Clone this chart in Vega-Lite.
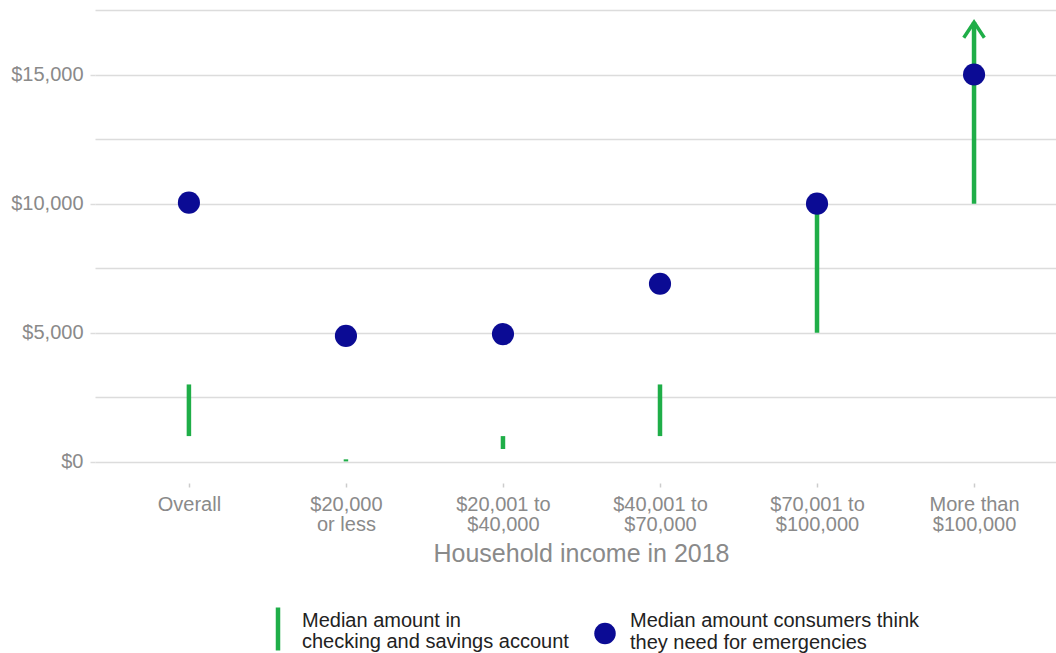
{
  "$schema": "https://vega.github.io/schema/vega-lite/v6.json",
  "width": 961,
  "height": 477,
  "autosize": "none",
  "padding": {"left": 95, "top": 3, "right": 0, "bottom": 173},
  "background": "white",
  "config": {
    "view": {"stroke": null},
    "font": "Liberation Sans",
    "axis": {"labelFont": "Liberation Sans", "titleFont": "Liberation Sans"},
    "legend": {"labelFont": "Liberation Sans", "padding": 0}
  },
  "data": {
    "values": [
      {"group": "Overall", "low": 1000, "high": 3000, "need": 10040},
      {"group": "$20,000 or less", "low": 20, "high": 100, "need": 4880},
      {"group": "$20,001 to $40,000", "low": 500, "high": 1000, "need": 4950},
      {"group": "$40,001 to $70,000", "low": 1000, "high": 3000, "need": 6900},
      {"group": "$70,001 to $100,000", "low": 5000, "high": 10000, "need": 10000},
      {"group": "More than $100,000", "low": 10000, "high": 17025, "need": 15000, "arrow": 17025}
    ]
  },
  "encoding": {
    "x": {
      "field": "group",
      "type": "nominal",
      "sort": null,
      "scale": {"type": "point", "padding": 0.56, "align": 0.534},
      "axis": {
        "title": "Household income in 2018",
        "titleFontSize": 25,
        "titleFontWeight": "normal",
        "titleColor": "#8a8a8a",
        "titlePadding": 7,
        "titleX": 486,
        "titleAlign": "center",
        "labelAngle": 0,
        "labelFontSize": 20,
        "labelColor": "#8a8a8a",
        "labelLineHeight": 20,
        "labelPadding": 7,
        "labelExpr": "split(replace(replace(replace(datum.label, ' to ', ' to|'), ' or ', '|or '), 'than ', 'than|'), '|')",
        "domain": false,
        "grid": false,
        "ticks": true,
        "tickSize": 4,
        "tickColor": "#cccccc",
        "tickWidth": 1.5,
        "offset": 3
      }
    }
  },
  "layer": [
    {
      "mark": {"type": "rule", "strokeWidth": 4.5, "strokeCap": "butt"},
      "encoding": {
        "y": {
          "field": "low",
          "type": "quantitative",
          "scale": {"domain": [-700, 17770], "nice": false, "zero": false},
          "axis": {
            "title": null,
            "values": [0, 2500, 5000, 7500, 10000, 12500, 15000, 17500],
            "labelExpr": "datum.value % 5000 === 0 ? format(datum.value, '$,.0f') : ''",
            "labelFontSize": 20,
            "labelColor": "#8a8a8a",
            "labelPadding": 7,
            "domain": false,
            "grid": true,
            "gridColor": "#dcdcdc",
            "gridWidth": 1.5,
            "tickSize": 5,
            "tickColor": "#dcdcdc",
            "tickWidth": 1.5,
            "tickOpacity": {"condition": {"test": "datum.value % 5000 === 0", "value": 1}, "value": 0}
          }
        },
        "y2": {"field": "high"},
        "color": {
          "datum": "Median amount in checking and savings account",
          "scale": {"range": ["#1fae48"]},
          "legend": {
            "title": null,
            "orient": "none",
            "legendX": 159,
            "legendY": 602,
            "symbolType": "M0,-1L0,1",
            "symbolSize": 1849,
            "symbolStrokeWidth": 4.5,
            "symbolStrokeColor": "#1fae48",
            "labelFontSize": 20,
            "labelColor": "#222222",
            "labelLimit": 400,
            "labelExpr": "['Median amount in', 'checking and savings account']",
            "labelOffset": 0,
            "encode": {"labels": {"update": {"dy": {"value": -8}, "lineHeight": {"value": 21}}}}
          }
        }
      }
    },
    {
      "mark": {"type": "point", "shape": "M-1,1.5L0,0L1,1.5", "filled": false, "size": 424, "strokeWidth": 3.5, "color": "#1fae48", "opacity": 1},
      "encoding": {
        "y": {"field": "arrow", "type": "quantitative"}
      }
    },
    {
      "mark": {"type": "circle", "opacity": 1, "size": 490},
      "encoding": {
        "y": {"field": "need", "type": "quantitative"},
        "fill": {
          "datum": "Median amount consumers think they need for emergencies",
          "scale": {"range": ["#0b0b94"]},
          "legend": {
            "title": null,
            "orient": "none",
            "legendX": 488.5,
            "legendY": 596,
            "symbolType": "M-0.5,0.6A0.5,0.5 0 1,0 0.5,0.6A0.5,0.5 0 1,0 -0.5,0.6Z",
            "symbolSize": 1849,
            "symbolStrokeWidth": 0,
            "labelFontSize": 20,
            "labelColor": "#222222",
            "labelLimit": 400,
            "labelExpr": "['Median amount consumers think', 'they need for emergencies']",
            "labelOffset": 3.5
          }
        }
      }
    }
  ]
}
